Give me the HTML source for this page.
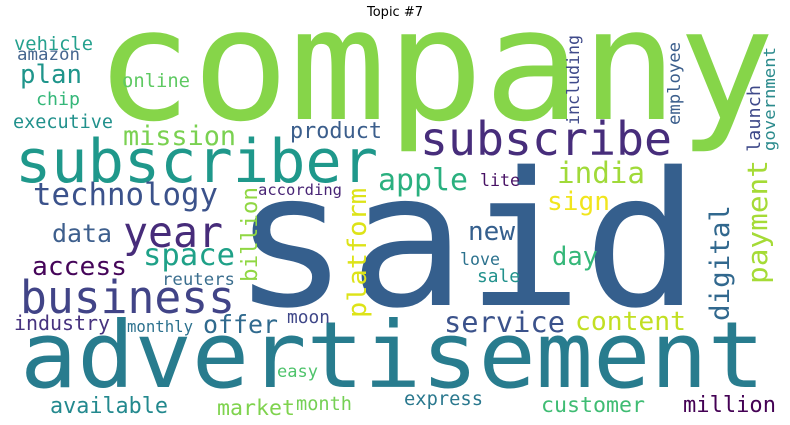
<!DOCTYPE html>
<html><head><meta charset="utf-8">
<style>
html,body{margin:0;padding:0;background:#fff;}
svg{display:block;}
text.w{font-family:"DejaVu Sans Mono","Liberation Mono",monospace;}
</style></head>
<body>
<svg width="790" height="425" viewBox="0 0 790 425" xmlns="http://www.w3.org/2000/svg">
<rect x="0" y="0" width="790" height="425" fill="#fff"/>
<text x="395" y="16" text-anchor="middle" font-family="DejaVu Sans, Liberation Sans, sans-serif" font-size="13" fill="#000">Topic #7</text>
<g>
<text class="w" x="95" y="119" font-size="155" fill="#86d549" textLength="680" lengthAdjust="spacingAndGlyphs">company</text>
<text class="w" x="232" y="305" font-size="186" fill="#355f8d" textLength="468" lengthAdjust="spacingAndGlyphs">said</text>
<text class="w" x="20" y="387" font-size="92" fill="#287c8e" textLength="745" lengthAdjust="spacingAndGlyphs">advertisement</text>
<text class="w" x="15" y="182" font-size="60" fill="#1f988b" textLength="363" lengthAdjust="spacingAndGlyphs">subscriber</text>
<text class="w" x="420" y="155" font-size="46" fill="#472d7b" textLength="252" lengthAdjust="spacingAndGlyphs">subscribe</text>
<text class="w" x="20" y="313" font-size="45" fill="#414487" textLength="215" lengthAdjust="spacingAndGlyphs">business</text>
<text class="w" x="123" y="247" font-size="43" fill="#472c7a" textLength="100" lengthAdjust="spacingAndGlyphs">year</text>
<text class="w" x="33" y="205" font-size="31" fill="#3b528b" textLength="185" lengthAdjust="spacingAndGlyphs">technology</text>
<text class="w" x="378" y="190" font-size="30" fill="#2ab07f" textLength="90" lengthAdjust="spacingAndGlyphs">apple</text>
<text class="w" x="557" y="183" font-size="29" fill="#a0da39" textLength="88" lengthAdjust="spacingAndGlyphs">india</text>
<text class="w" x="547" y="210" font-size="26" fill="#f1e51d" textLength="63" lengthAdjust="spacingAndGlyphs">sign</text>
<text class="w" x="480" y="186" font-size="17" fill="#471164" textLength="40" lengthAdjust="spacingAndGlyphs">lite</text>
<text class="w" x="123" y="145" font-size="27" fill="#7ad151" textLength="113" lengthAdjust="spacingAndGlyphs">mission</text>
<text class="w" x="20" y="83" font-size="26" fill="#1f958b" textLength="62" lengthAdjust="spacingAndGlyphs">plan</text>
<text class="w" x="14" y="50" font-size="19" fill="#25a18e" textLength="79" lengthAdjust="spacingAndGlyphs">vehicle</text>
<text class="w" x="17" y="60" font-size="17" fill="#46668f" textLength="63" lengthAdjust="spacingAndGlyphs">amazon</text>
<text class="w" x="36" y="105" font-size="18" fill="#35b779" textLength="44" lengthAdjust="spacingAndGlyphs">chip</text>
<text class="w" x="122" y="87" font-size="19" fill="#5ec962" textLength="68" lengthAdjust="spacingAndGlyphs">online</text>
<text class="w" x="13" y="128" font-size="18.5" fill="#21918c" textLength="100" lengthAdjust="spacingAndGlyphs">executive</text>
<text class="w" x="290" y="138" font-size="22" fill="#3b5e8c" textLength="92" lengthAdjust="spacingAndGlyphs">product</text>
<text class="w" x="258" y="195" font-size="15.5" fill="#482475" textLength="84" lengthAdjust="spacingAndGlyphs">according</text>
<text class="w" x="52" y="242" font-size="25" fill="#3e5f8d" textLength="60" lengthAdjust="spacingAndGlyphs">data</text>
<text class="w" x="143" y="265" font-size="30" fill="#1fa188" textLength="92" lengthAdjust="spacingAndGlyphs">space</text>
<text class="w" x="32" y="275" font-size="26" fill="#450559" textLength="95" lengthAdjust="spacingAndGlyphs">access</text>
<text class="w" x="162" y="285" font-size="17" fill="#3b6e8e" textLength="73" lengthAdjust="spacingAndGlyphs">reuters</text>
<text class="w" x="14" y="330" font-size="20" fill="#46327e" textLength="96" lengthAdjust="spacingAndGlyphs">industry</text>
<text class="w" x="203" y="333" font-size="25" fill="#306a8e" textLength="75" lengthAdjust="spacingAndGlyphs">offer</text>
<text class="w" x="287" y="323" font-size="18" fill="#3f4788" textLength="43" lengthAdjust="spacingAndGlyphs">moon</text>
<text class="w" x="127" y="332" font-size="15.6" fill="#2c718e" textLength="66" lengthAdjust="spacingAndGlyphs">monthly</text>
<text class="w" x="277" y="377" font-size="17" fill="#4ec36b" textLength="41" lengthAdjust="spacingAndGlyphs">easy</text>
<text class="w" x="50" y="413" font-size="22" fill="#23898e" textLength="118" lengthAdjust="spacingAndGlyphs">available</text>
<text class="w" x="217" y="415" font-size="21.6" fill="#7fd34e" textLength="78" lengthAdjust="spacingAndGlyphs">market</text>
<text class="w" x="296" y="410" font-size="18.6" fill="#75d054" textLength="56" lengthAdjust="spacingAndGlyphs">month</text>
<text class="w" x="468" y="240" font-size="26" fill="#355f8d" textLength="47" lengthAdjust="spacingAndGlyphs">new</text>
<text class="w" x="552" y="265" font-size="25.5" fill="#35b779" textLength="46" lengthAdjust="spacingAndGlyphs">day</text>
<text class="w" x="460" y="265" font-size="17" fill="#2c728e" textLength="40" lengthAdjust="spacingAndGlyphs">love</text>
<text class="w" x="477" y="282" font-size="18" fill="#21918c" textLength="43" lengthAdjust="spacingAndGlyphs">sale</text>
<text class="w" x="444" y="332" font-size="28.7" fill="#3b528b" textLength="121" lengthAdjust="spacingAndGlyphs">service</text>
<text class="w" x="575" y="330" font-size="26" fill="#c2df23" textLength="111" lengthAdjust="spacingAndGlyphs">content</text>
<text class="w" x="404" y="405" font-size="18.7" fill="#2a788e" textLength="79" lengthAdjust="spacingAndGlyphs">express</text>
<text class="w" x="541" y="412" font-size="21.6" fill="#3fbc73" textLength="104" lengthAdjust="spacingAndGlyphs">customer</text>
<text class="w" x="683" y="412" font-size="22" fill="#440154" textLength="93" lengthAdjust="spacingAndGlyphs">million</text>
<text class="w" transform="translate(257,282) rotate(-90)" font-size="22" fill="#90d743" textLength="95" lengthAdjust="spacingAndGlyphs">billion</text>
<text class="w" transform="translate(366,318) rotate(-90)" font-size="26" fill="#dde318" textLength="130" lengthAdjust="spacingAndGlyphs">platform</text>
<text class="w" transform="translate(579,125) rotate(-90)" font-size="17" fill="#3f4a8a" textLength="90" lengthAdjust="spacingAndGlyphs">including</text>
<text class="w" transform="translate(680,125) rotate(-90)" font-size="17" fill="#3b5e8c" textLength="83" lengthAdjust="spacingAndGlyphs">employee</text>
<text class="w" transform="translate(760,152) rotate(-90)" font-size="18" fill="#3e4989" textLength="67" lengthAdjust="spacingAndGlyphs">launch</text>
<text class="w" transform="translate(775,151) rotate(-90)" font-size="16" fill="#2a8a8c" textLength="104" lengthAdjust="spacingAndGlyphs">government</text>
<text class="w" transform="translate(729,321) rotate(-90)" font-size="27" fill="#31688e" textLength="116" lengthAdjust="spacingAndGlyphs">digital</text>
<text class="w" transform="translate(767,284) rotate(-90)" font-size="28" fill="#a5db36" textLength="124" lengthAdjust="spacingAndGlyphs">payment</text>
</g>
</svg>
</body></html>
